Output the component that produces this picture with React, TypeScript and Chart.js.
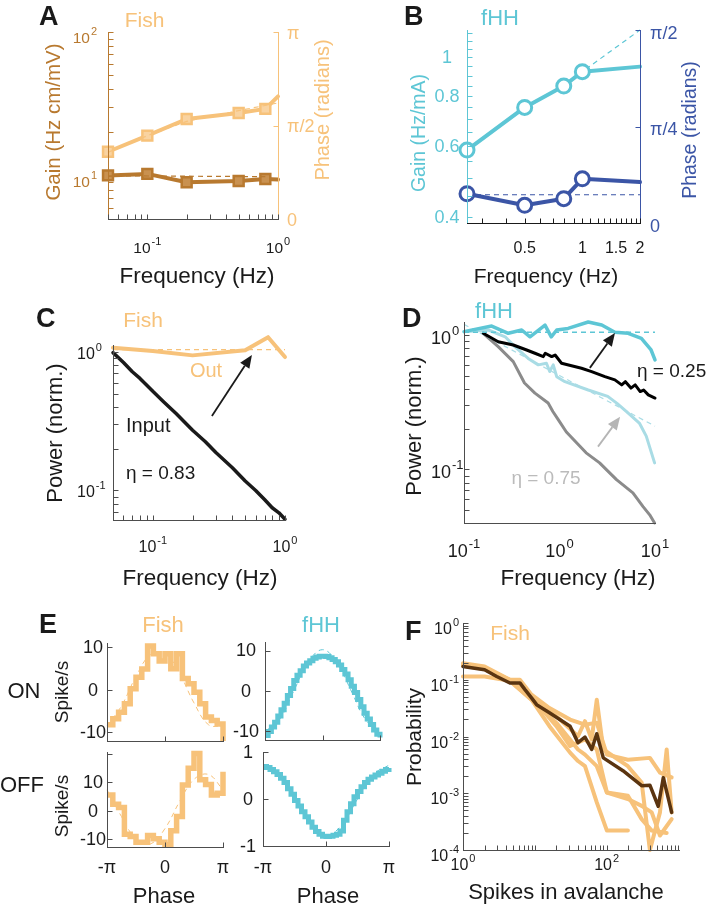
import React, { useEffect, useRef } from "react";
import { Chart, registerables } from "chart.js";

Chart.register(...registerables);

const W = 706;
const H = 905;
const SANS = '"Liberation Sans", Arial, Helvetica, sans-serif';
const PI = Math.PI;

// colours
const ORANGE = "#F7C27A";
const ORANGE_IN = "#F9D3A1";
const BROWN = "#B8792F";
const BROWN_IN = "#C99150";
const CYAN = "#5DC6D5";
const BLUE = "#3B55A6";
const LCYAN = "#A9DCE5";
const GRAY = "#8B8B8B";
const LGRAY = "#BBBBBB";
const DBROWN = "#5A3410";
const INK = "#1a1a1a";
const AX = "#4d4d4d";

/* ---------------- A : Fish gain / phase ---------------- */
const aFreq = [0.05, 0.1, 0.2, 0.5, 0.8, 1.0];
const aGain = [10.05, 10.3, 9.0, 9.2, 9.5, 9.4];
const aPhase = [1.13, 1.4, 1.68, 1.78, 1.85, 2.06];
const aMarked = 5;
const aGainFitFreq = [0.05, 0.8];
const aGainFit = [10.0, 9.85];
const aPhaseFitFreq = [0.05, 0.1, 0.2, 0.5, 1.0];
const aPhaseFit = [1.12, 1.4, 1.64, 1.82, 1.95];
const aXTicks = [0.05, 0.06, 0.07, 0.08, 0.09, 0.1, 0.2, 0.3, 0.4, 0.5, 0.6, 0.7, 0.8, 0.9, 1];
const aYTicks = [5, 6, 7, 8, 9, 10, 20, 30, 40, 50, 60, 70, 80, 90, 100];
const aXLabels = [{ v: 0.1, e: "-1" }, { v: 1, e: "0" }];
const aYLabels = [{ v: 10, e: "1" }, { v: 100, e: "2" }];
const aY2Labels = [{ v: 0, s: "0" }, { v: PI / 2, s: "π/2" }, { v: PI, s: "π" }];

/* ---------------- B : fHH gain / phase ---------------- */
const bFreq = [0.25, 0.5, 0.8, 1.0, 2.0];
const bGain = [0.587, 0.75, 0.848, 0.921, 0.948];
const bPhase = [0.238, 0.144, 0.198, 0.36, 0.333];
const bMarked = 4;
const bGainFit = [0.587, 0.75, 0.848, 0.921, 1.17];
const bPhaseFitFreq = [0.25, 2.0];
const bPhaseFit = [0.23, 0.23];
const bXTicks = [0.3, 0.4, 0.5, 0.6, 0.7, 0.8, 0.9, 1.0, 1.1, 1.2, 1.3, 1.4, 1.5, 1.6, 1.7, 1.8, 1.9, 2.0];
const bYTicks = [0.4, 0.45, 0.5, 0.55, 0.6, 0.65, 0.7, 0.75, 0.8, 0.85, 0.9, 0.95, 1.0, 1.05, 1.1, 1.15];
const bXLabels = [{ v: 0.5, s: "0.5" }, { v: 1, s: "1" }, { v: 1.5, s: "1.5" }, { v: 2, s: "2" }];
const bYLabels = [{ v: 0.4, s: "0.4" }, { v: 0.6, s: "0.6" }, { v: 0.8, s: "0.8" }, { v: 1, s: "1" }];
const bY2Labels = [{ v: 0, s: "0" }, { v: PI / 4, s: "π/4" }, { v: PI / 2, s: "π/2" }];

/* ---------------- C : Fish power spectra ---------------- */
const cFreq = [0.05, 0.06, 0.07, 0.08, 0.1, 0.12, 0.15, 0.2, 0.25, 0.3, 0.4, 0.5, 0.6, 0.7, 0.8, 0.9, 1.0];
const cInput = [0.99, 0.84, 0.72, 0.645, 0.52, 0.44, 0.36, 0.272, 0.225, 0.188, 0.146, 0.117, 0.1, 0.086, 0.075, 0.069, 0.062];
const cOutFreq = [0.05, 0.1, 0.2, 0.5, 0.745, 1.0];
const cOut = [1.075, 1.017, 0.946, 1.03, 1.28, 0.92];
const cFitFreq = [0.05, 1.0];
const cFit = [1.04, 1.04];
const cXTicks = [0.05, 0.06, 0.07, 0.08, 0.09, 0.1, 0.2, 0.3, 0.4, 0.5, 0.6, 0.7, 0.8, 0.9, 1];
const cYTicks = [0.07, 0.08, 0.09, 0.1, 0.2, 0.3, 0.4, 0.5, 0.6, 0.7, 0.8, 0.9, 1];
const cXLabels = [{ v: 0.1, e: "-1" }, { v: 1, e: "0" }];
const cYLabels = [{ v: 0.1, e: "-1" }, { v: 1, e: "0" }];
const cArrow = { from: [0.28, 0.345], to: [0.562, 0.953] };

/* ---------------- D : fHH power spectra ---------------- */
const dCyanF = [0.1, 0.195, 0.291, 0.402, 0.491, 0.705, 0.82, 0.935, 1.23, 2.0, 2.77, 3.8, 5.24, 7.2, 9.1, 10];
const dCyan = [1.06, 1.166, 1.03, 1.09, 0.97, 1.186, 0.97, 1.09, 1.12, 1.25, 1.186, 1.05, 1.03, 0.945, 0.774, 0.653];
const dBlackF = [0.159, 0.228, 0.328, 0.453, 0.553, 0.677, 0.71, 0.828, 0.9, 1.05, 1.7, 2.17, 2.99, 3.8, 4.48, 4.9, 5.6, 6.2, 7.0, 7.6, 8.5, 10];
const dBlack = [1.03, 0.892, 0.843, 0.774, 0.732, 0.691, 0.732, 0.691, 0.71, 0.617, 0.566, 0.535, 0.49, 0.464, 0.426, 0.45, 0.403, 0.426, 0.38, 0.39, 0.359, 0.34];
const dGrayF = [0.159, 0.228, 0.328, 0.43, 0.553, 0.76, 0.852, 0.97, 1.18, 1.9, 2.63, 3.95, 5.87, 7.5, 8.8, 9.9];
const dGray = [1.03, 0.82, 0.634, 0.44, 0.37, 0.312, 0.27, 0.235, 0.19, 0.133, 0.112, 0.084, 0.067, 0.053, 0.046, 0.04];
const dLightF = [0.11, 0.18, 0.27, 0.34, 0.47, 0.6, 0.73, 0.79, 0.86, 0.935, 1.14, 2.0, 3.2, 4.0, 5.0, 6.9, 8.1, 9.9];
const dLight = [1.06, 1.09, 0.97, 0.82, 0.67, 0.6, 0.617, 0.535, 0.6, 0.49, 0.45, 0.39, 0.35, 0.31, 0.27, 0.22, 0.177, 0.112];
const dFitF = [0.1, 10];
const dFitCyan = [1.05, 1.05];
const dFitLightF = [0.1, 1, 10];
const dFitLight = [1.2, 0.5, 0.21];
const dYTicks = [0.04, 0.05, 0.06, 0.07, 0.08, 0.09, 0.1, 0.2, 0.3, 0.4, 0.5, 0.6, 0.7, 0.8, 0.9, 1];
const dXLabels = [{ v: 0.1, e: "-1" }, { v: 1, e: "0" }, { v: 10, e: "1" }];
const dYLabels = [{ v: 0.1, e: "-1" }, { v: 1, e: "0" }];
const dArrowBlack = { from: [2.08, 0.57], to: [3.81, 1.035] };
const dArrowGray = { from: [2.53, 0.148], to: [4.31, 0.247] };

/* ---------------- E : phase histograms (phase in degrees) ---------------- */
const PHASE_END = 180;
const fishEdges = [-180, -162, -144, -126, -108, -90, -72, -54, -36, -18, 0, 18, 36, 54, 72, 90, 108, 126, 144, 162];
const fishOn = [-8.2, -6.8, -5.3, -3.3, 0.2, 2.9, 4.8, 10.2, 8.4, 6.7, 8.4, 4.9, 8.4, 2.6, 1.4, -0.6, -3.3, -6.4, -7.2, -8.0];
const fishOnEnd = -12;
const fishOff = [5.5, 2.2, 1.1, -8.3, -9.1, -11.1, -11.1, -8.8, -9.9, -11.1, -12.0, -7.1, -2.1, 9.0, 14.9, 20.1, 10.8, 9.2, 5.5, 6.1];
const fishOffEnd = 13.7;
const fitPhase = [-180, -135, -90, -45, 0, 45, 90, 135, 180];
const fishOnFit = [-8.5, -3.8, 3.1, 8.2, 8.5, 3.8, -3.1, -8.2, -8.5];
const fishOffFit = [7.3, -2.1, -10.0, -11.7, -6.3, 3.1, 11.0, 12.7, 7.3];
const hhEdges = [-180, -170, -160, -150, -140, -130, -120, -110, -100, -90, -80, -70, -60, -50, -40, -30, -20, -10, 0, 10, 20, 30, 40, 50, 60, 70, 80, 90, 100, 110, 120, 130, 140, 150, 160, 170];
const hhOn = [-11.0, -10.0, -8.9, -7.7, -6.2, -4.6, -3.0, -1.1, 0.6, 2.6, 3.9, 5.0, 6.2, 6.9, 7.5, 8.1, 8.4, 8.6, 8.6, 8.5, 8.2, 7.8, 7.2, 6.4, 5.3, 4.2, 2.8, 1.2, -0.4, -2.1, -3.9, -5.5, -6.9, -8.3, -9.6, -10.7];
const hhOnEnd = -11.5;
const hhOff = [0.69, 0.67, 0.63, 0.58, 0.52, 0.44, 0.35, 0.22, 0.1, -0.03, -0.15, -0.27, -0.38, -0.49, -0.6, -0.69, -0.75, -0.79, -0.8, -0.79, -0.77, -0.75, -0.68, -0.45, -0.27, -0.1, 0.05, 0.16, 0.26, 0.35, 0.42, 0.47, 0.51, 0.55, 0.59, 0.63];
const hhOffEnd = 0.66;
const hhOnFit = [-10, -7.1, 0, 7.1, 10.2, 7.1, 0, -7.1, -10];
const hhOffFit = [0.72, 0.52, 0, -0.52, -0.78, -0.55, 0, 0.52, 0.72];
const eXTicks = [-180, 0, 180];
const eXLabels = [{ v: -180, s: "-π" }, { v: 0, s: "0" }, { v: 180, s: "π" }];
const e10Ticks = [-10, 0, 10];
const e10Labels = [{ v: 10, s: "10" }, { v: 0, s: "0" }, { v: -10, s: "-10" }];
const eOffTicks = [-10, 0, 10, 20];
const e1Ticks = [-1, 0, 1];
const e1Labels = [{ v: 1, s: "1" }, { v: 0, s: "0" }, { v: -1, s: "-1" }];

/* ---------------- F : avalanche size distributions ---------------- */
const fDarkX = [1, 2, 2.95, 4.5, 6.2, 7.3, 9, 10.6, 16, 31, 40, 50, 62, 73, 90, 169, 308, 401, 524, 617, 806];
const fDarkY = [0.171, 0.15, 0.114, 0.0875, 0.088, 0.067, 0.048, 0.0364, 0.0262, 0.0152, 0.0078, 0.0098, 0.0059, 0.0112, 0.0042, 0.0025, 0.00136, 0.00139, 0.00059, 0.00188, 0.00046];
const fL1X = [1, 2, 4.5, 6.2, 9, 16, 31, 50, 73, 101, 198, 401, 554, 806];
const fL1Y = [0.196, 0.171, 0.1, 0.1, 0.0545, 0.0318, 0.0199, 0.0162, 0.0174, 0.0048, 0.0039, 0.0042, 0.0023, 0.0019];
const fL2X = [1, 2, 4.5, 7.6, 10.6, 20, 31, 50, 73, 101, 198, 308, 425, 554, 806];
const fL2Y = [0.114, 0.114, 0.0955, 0.0668, 0.039, 0.0152, 0.0068, 0.0089, 0.0059, 0.00103, 0.00079, 0.0006, 0.00046, 0.00018, 0.00035];
const fL3X = [1, 2, 4.5, 9, 16, 31, 40, 50, 73, 101, 198];
const fL3Y = [0.183, 0.16, 0.0955, 0.0446, 0.0152, 0.0052, 0.0037, 0.003, 0.00069, 0.00022, 0.00022];
const fL4X = [1, 2, 4.5, 9, 20, 40, 50, 62, 73, 90, 198, 308, 401, 554, 687, 806];
const fL4Y = [0.183, 0.16, 0.1, 0.051, 0.0227, 0.0101, 0.0186, 0.0089, 0.0446, 0.0059, 0.003, 0.00154, 0.0001, 0.00046, 0.0059, 0.00046];
const fL5X = [1, 2, 4.5, 9, 20, 40, 50, 73, 101, 198, 308, 425, 687];
const fL5Y = [0.176, 0.154, 0.097, 0.0446, 0.0174, 0.0059, 0.0048, 0.003, 0.00103, 0.0009, 0.00035, 0.00022, 0.0002];
const fXTicks = [1, 2, 3, 4, 5, 6, 7, 8, 9, 10, 20, 30, 40, 50, 60, 70, 80, 90, 100, 200, 300, 400, 500, 600, 700, 800, 900, 1000];
const fYTicks = [
  1e-4, 2e-4, 3e-4, 4e-4, 5e-4, 6e-4, 7e-4, 8e-4, 9e-4,
  1e-3, 2e-3, 3e-3, 4e-3, 5e-3, 6e-3, 7e-3, 8e-3, 9e-3,
  1e-2, 2e-2, 3e-2, 4e-2, 5e-2, 6e-2, 7e-2, 8e-2, 9e-2,
  0.1, 0.2, 0.3, 0.4, 0.5, 0.6, 0.7, 0.8, 0.9, 1,
];
const fXLabels = [{ v: 1, e: "0" }, { v: 100, e: "2" }];
const fYLabels = [{ v: 1e-4, e: "-4" }, { v: 1e-3, e: "-3" }, { v: 1e-2, e: "-2" }, { v: 0.1, e: "-1" }, { v: 1, e: "0" }];

/* ---------------- helpers ---------------- */
type C2D = CanvasRenderingContext2D;
type Rect = { l: number; t: number; r: number; b: number };
interface Panel {
  rect: Rect;
  scales: any;
  datasets: any[];
  deco: (ctx: C2D, c: any) => void;
}

function line(xs: number[], ys: number[], color: string, width: number, extra: any = {}) {
  return {
    data: xs.map((x, i) => ({ x, y: ys[i] })),
    borderColor: color,
    backgroundColor: color,
    borderWidth: width,
    pointRadius: 0,
    pointHoverRadius: 0,
    fill: false,
    tension: 0,
    clip: false,
    borderCapStyle: "round",
    borderJoinStyle: "round",
    ...extra,
  };
}
const dashed = (extra: any = {}) => ({ borderDash: [5, 4], borderCapStyle: "butt", ...extra });
function stairs(edges: number[], vals: number[], end: number, color: string, width: number) {
  return line([...edges, PHASE_END], [...vals, end], color, width, {
    stepped: true,
    borderJoinStyle: "miter",
    borderCapStyle: "butt",
  });
}
const lg = (min: number, max: number, extra: any = {}) => ({ type: "logarithmic", min, max, display: false, ...extra });
const ln = (min: number, max: number, extra: any = {}) => ({ type: "linear", min, max, display: false, ...extra });

const px = (c: any, v: number) => c.scales.x.getPixelForValue(v);
const py = (c: any, v: number, id = "y") => c.scales[id].getPixelForValue(v);

function seg(ctx: C2D, x1: number, y1: number, x2: number, y2: number, color: string, w = 1) {
  ctx.strokeStyle = color;
  ctx.lineWidth = w;
  ctx.setLineDash([]);
  ctx.beginPath();
  ctx.moveTo(x1, y1);
  ctx.lineTo(x2, y2);
  ctx.stroke();
}
const snap = (v: number) => Math.round(v) + 0.5;

interface AxisSpec { color: string; ticks: number[]; id?: string }
function axes(ctx: C2D, c: any, s: { left?: AxisSpec; right?: AxisSpec; bottom?: AxisSpec }, TL = 5) {
  const a = c.chartArea;
  if (s.left) {
    const x = snap(a.left);
    seg(ctx, x, a.top, x, a.bottom + 1, s.left.color);
    s.left.ticks.forEach((v) => {
      const y = snap(py(c, v, s.left!.id || "y"));
      seg(ctx, x, y, x + TL, y, s.left!.color);
    });
  }
  if (s.right) {
    const x = snap(a.right);
    seg(ctx, x, a.top, x, a.bottom + 1, s.right.color);
    s.right.ticks.forEach((v) => {
      const y = snap(py(c, v, s.right!.id || "y2"));
      seg(ctx, x, y, x - TL, y, s.right!.color);
    });
  }
  if (s.bottom) {
    const y = snap(a.bottom);
    seg(ctx, a.left, y, a.right + 1, y, s.bottom.color);
    s.bottom.ticks.forEach((v) => {
      const x = snap(px(c, v));
      seg(ctx, x, y, x, y - TL, s.bottom!.color);
    });
  }
}

function txt(
  ctx: C2D,
  s: string,
  x: number,
  y: number,
  size: number,
  color: string,
  align: CanvasTextAlign = "center",
  baseline: CanvasTextBaseline = "alphabetic",
  bold = false
) {
  ctx.save();
  ctx.font = `${bold ? "bold " : ""}${size}px ${SANS}`;
  ctx.fillStyle = color;
  ctx.textAlign = align;
  ctx.textBaseline = baseline;
  ctx.fillText(s, x, y);
  ctx.restore();
}
function rtxt(ctx: C2D, s: string, x: number, y: number, size: number, color: string) {
  ctx.save();
  ctx.translate(x, y);
  ctx.rotate(-PI / 2);
  ctx.font = `${size}px ${SANS}`;
  ctx.fillStyle = color;
  ctx.textAlign = "center";
  ctx.textBaseline = "alphabetic";
  ctx.fillText(s, 0, 0);
  ctx.restore();
}
function pow10(ctx: C2D, e: string, x: number, y: number, size: number, color: string, align: "left" | "center" | "right") {
  ctx.save();
  const sup = Math.round(size * 0.7);
  ctx.font = `${size}px ${SANS}`;
  const bw = ctx.measureText("10").width;
  ctx.font = `${sup}px ${SANS}`;
  const sw = ctx.measureText(e).width;
  const tw = bw + 1 + sw;
  const x0 = align === "left" ? x : align === "center" ? x - tw / 2 : x - tw;
  ctx.fillStyle = color;
  ctx.textAlign = "left";
  ctx.textBaseline = "alphabetic";
  ctx.font = `${size}px ${SANS}`;
  ctx.fillText("10", x0, y);
  ctx.font = `${sup}px ${SANS}`;
  ctx.fillText(e, x0 + bw + 1, y - size * 0.5);
  ctx.restore();
}
function arrow(ctx: C2D, x1: number, y1: number, x2: number, y2: number, color: string, w = 1.8, head = 13, hw = 5.5) {
  const ang = Math.atan2(y2 - y1, x2 - x1);
  const bx = x2 - head * Math.cos(ang);
  const by = y2 - head * Math.sin(ang);
  seg(ctx, x1, y1, bx, by, color, w);
  ctx.fillStyle = color;
  ctx.beginPath();
  ctx.moveTo(x2, y2);
  ctx.lineTo(bx + hw * Math.sin(ang), by - hw * Math.cos(ang));
  ctx.lineTo(bx - hw * Math.sin(ang), by + hw * Math.cos(ang));
  ctx.closePath();
  ctx.fill();
}
function dataArrow(ctx: C2D, c: any, a: { from: number[]; to: number[] }, color: string) {
  arrow(ctx, px(c, a.from[0]), py(c, a.from[1]), px(c, a.to[0]), py(c, a.to[1]), color);
}
const letter = (ctx: C2D, s: string, x: number, y: number) => txt(ctx, s, x, y, 27, INK, "left", "alphabetic", true);

/* ---------------- panels ---------------- */
const PANELS: Panel[] = [
  // A
  {
    rect: { l: 108, t: 32, r: 278, b: 219 },
    scales: { x: lg(0.05, 1), y: lg(5, 100), y2: ln(0, PI, { position: "right" }) },
    datasets: [
      line(aFreq, aGain, BROWN, 4, {
        pointStyle: "rect",
        pointRadius: (k: any) => (k.dataIndex < aMarked ? 7 : 0),
        pointBorderWidth: 2.5,
        pointBackgroundColor: BROWN_IN,
        pointBorderColor: BROWN,
      }),
      line(aFreq, aPhase, ORANGE, 4, {
        yAxisID: "y2",
        pointStyle: "rect",
        pointRadius: (k: any) => (k.dataIndex < aMarked ? 7 : 0),
        pointBorderWidth: 2.5,
        pointBackgroundColor: ORANGE_IN,
        pointBorderColor: ORANGE,
      }),
      line(aGainFitFreq, aGainFit, BROWN, 1.2, dashed()),
      line(aPhaseFitFreq, aPhaseFit, ORANGE, 1.2, dashed({ yAxisID: "y2" })),
    ],
    deco: (ctx, c) => {
      const a = c.chartArea;
      axes(ctx, c, {
        left: { color: BROWN, ticks: aYTicks },
        right: { color: ORANGE, ticks: aY2Labels.map((l) => l.v), id: "y2" },
        bottom: { color: AX, ticks: aXTicks },
      });
      aYLabels.forEach((l) => pow10(ctx, l.e, a.left - 11, py(c, l.v) + 11, 15.5, BROWN, "right"));
      aY2Labels.forEach((l) => txt(ctx, l.s, a.right + 9, py(c, l.v, "y2") + 2, 18, ORANGE, "left", "middle"));
      aXLabels.forEach((l) => pow10(ctx, l.e, px(c, l.v), 253, 15.5, INK, "center"));
      txt(ctx, "Frequency (Hz)", 197, 283, 22.5, INK);
      rtxt(ctx, "Gain (Hz cm/mV)", 60, 122, 20.5, BROWN);
      rtxt(ctx, "Phase (radians)", 329, 110, 20, ORANGE);
      txt(ctx, "Fish", 144.5, 27, 21, ORANGE);
      letter(ctx, "A", 39, 25);
    },
  },
  // B
  {
    rect: { l: 467, t: 30, r: 640, b: 223 },
    scales: { x: lg(0.25, 2), y: lg(0.386, 1.17), y2: ln(0, PI / 2, { position: "right" }) },
    datasets: [
      line(bFreq, bGainFit, CYAN, 1.2, dashed()),
      line(bPhaseFitFreq, bPhaseFit, BLUE, 1.2, dashed({ yAxisID: "y2" })),
      line(bFreq, bGain, CYAN, 4, {
        pointStyle: "circle",
        pointRadius: (k: any) => (k.dataIndex < bMarked ? 7 : 0),
        pointBorderWidth: 3,
        pointBackgroundColor: "#ffffff",
        pointBorderColor: CYAN,
      }),
      line(bFreq, bPhase, BLUE, 4, {
        yAxisID: "y2",
        pointStyle: "circle",
        pointRadius: (k: any) => (k.dataIndex < bMarked ? 7 : 0),
        pointBorderWidth: 3,
        pointBackgroundColor: "#ffffff",
        pointBorderColor: BLUE,
      }),
    ],
    deco: (ctx, c) => {
      axes(ctx, c, {
        left: { color: CYAN, ticks: bYTicks },
        right: { color: BLUE, ticks: bY2Labels.map((l) => l.v), id: "y2" },
        bottom: { color: INK, ticks: bXTicks },
      });
      bYLabels.forEach((l) => txt(ctx, l.s, 447, py(c, l.v) + 1, 18, CYAN, "center", "middle"));
      bY2Labels.forEach((l) => txt(ctx, l.s, c.chartArea.right + 10, py(c, l.v, "y2") + 4, 18, BLUE, "left", "middle"));
      bXLabels.forEach((l) => txt(ctx, l.s, px(c, l.v), 253, 16, INK));
      txt(ctx, "Frequency (Hz)", 546, 283, 21, INK);
      rtxt(ctx, "Gain (Hz/mA)", 425, 133, 19.5, CYAN);
      rtxt(ctx, "Phase (radians)", 696, 130, 19.5, BLUE);
      txt(ctx, "fHH", 500, 25, 22, CYAN);
      letter(ctx, "B", 404, 25);
    },
  },
  // C
  {
    rect: { l: 113, t: 345, r: 285, b: 520 },
    scales: { x: lg(0.05, 1), y: lg(0.0612, 1.124) },
    datasets: [
      line(cFreq, cInput, INK, 3.5),
      line(cOutFreq, cOut, ORANGE, 4),
      line(cFitFreq, cFit, ORANGE, 1.2, dashed()),
    ],
    deco: (ctx, c) => {
      axes(ctx, c, { left: { color: AX, ticks: cYTicks }, bottom: { color: AX, ticks: cXTicks } });
      cYLabels.forEach((l) => pow10(ctx, l.e, 77, py(c, l.v) + 6.5, 16, INK, "left"));
      cXLabels.forEach((l) => pow10(ctx, l.e, px(c, l.v), 552, 16, INK, "center"));
      txt(ctx, "Frequency (Hz)", 200, 585, 22.5, INK);
      rtxt(ctx, "Power (norm.)", 62, 433, 22, INK);
      txt(ctx, "Fish", 143, 327, 21, ORANGE);
      letter(ctx, "C", 36, 327);
      txt(ctx, "Out", 206, 377, 20, ORANGE);
      txt(ctx, "Input", 126, 432, 20, INK, "left");
      txt(ctx, "η = 0.83", 126, 479, 19, INK, "left");
      dataArrow(ctx, c, cArrow, INK);
    },
  },
  // D
  {
    rect: { l: 464, t: 322, r: 655, b: 523 },
    scales: { x: lg(0.1, 10), y: lg(0.04, 1.25) },
    datasets: [
      line(dGrayF, dGray, GRAY, 3),
      line(dLightF, dLight, LCYAN, 3),
      line(dFitLightF, dFitLight, LCYAN, 1.2, dashed()),
      line(dBlackF, dBlack, "#000000", 3),
      line(dFitF, dFitCyan, CYAN, 1.5, dashed()),
      line(dCyanF, dCyan, CYAN, 3.5),
    ],
    deco: (ctx, c) => {
      axes(ctx, c, { left: { color: AX, ticks: dYTicks }, bottom: { color: AX, ticks: [] } });
      dYLabels.forEach((l) => pow10(ctx, l.e, 431, py(c, l.v) + 9, 18, INK, "left"));
      dXLabels.forEach((l) => pow10(ctx, l.e, px(c, l.v), 557, 18, INK, "center"));
      txt(ctx, "Frequency (Hz)", 578, 585, 22.5, INK);
      rtxt(ctx, "Power (norm.)", 421, 426, 22, INK);
      txt(ctx, "fHH", 494, 318, 22, CYAN);
      letter(ctx, "D", 402, 327);
      txt(ctx, "η = 0.25", 637, 377, 19, INK, "left");
      txt(ctx, "η = 0.75", 546, 484, 19, LGRAY);
      dataArrow(ctx, c, dArrowBlack, INK);
      dataArrow(ctx, c, dArrowGray, "#b5b5b5");
    },
  },
  // E1 fish ON
  {
    rect: { l: 107, t: 643, r: 223, b: 741 },
    scales: { x: ln(-180, 180), y: ln(-12, 10.9) },
    datasets: [stairs(fishEdges, fishOn, fishOnEnd, ORANGE, 5.5), line(fitPhase, fishOnFit, ORANGE, 1, dashed({ tension: 0.4 }))],
    deco: (ctx, c) => {
      axes(ctx, c, { left: { color: AX, ticks: e10Ticks }, bottom: { color: AX, ticks: eXTicks } });
      e10Labels.forEach((l) => txt(ctx, l.s, 93, py(c, l.v) + 1, 18, INK, "center", "middle"));
      txt(ctx, "Fish", 163, 632, 22, ORANGE);
      letter(ctx, "E", 39, 633);
      txt(ctx, "ON", 24, 698, 22, INK);
      rtxt(ctx, "Spike/s", 68, 692, 19, INK);
    },
  },
  // E2 fish OFF
  {
    rect: { l: 107, t: 752, r: 223, b: 847 },
    scales: { x: ln(-180, 180), y: ln(-12.8, 20.6) },
    datasets: [stairs(fishEdges, fishOff, fishOffEnd, ORANGE, 5.5), line(fitPhase, fishOffFit, ORANGE, 1, dashed({ tension: 0.4 }))],
    deco: (ctx, c) => {
      axes(ctx, c, { left: { color: AX, ticks: eOffTicks }, bottom: { color: AX, ticks: eXTicks } });
      e10Labels.forEach((l) => txt(ctx, l.s, 93, py(c, l.v) + 1, 18, INK, "center", "middle"));
      eXLabels.forEach((l) => txt(ctx, l.s, px(c, l.v), 873, 18, INK));
      txt(ctx, "Phase", 164, 903, 22, INK);
      txt(ctx, "OFF", 22, 792, 22, INK);
      rtxt(ctx, "Spike/s", 68, 806, 19, INK);
    },
  },
  // E3 fHH ON
  {
    rect: { l: 265, t: 642, r: 380, b: 740 },
    scales: { x: ln(-180, 180), y: ln(-12.1, 12.1) },
    datasets: [stairs(hhEdges, hhOn, hhOnEnd, CYAN, 5), line(fitPhase, hhOnFit, CYAN, 1, dashed({ tension: 0.4 }))],
    deco: (ctx, c) => {
      axes(ctx, c, { left: { color: AX, ticks: e10Ticks }, bottom: { color: AX, ticks: eXTicks } });
      e10Labels.forEach((l) => txt(ctx, l.s, 246, py(c, l.v) + 1, 18, INK, "center", "middle"));
      txt(ctx, "fHH", 321, 632, 22, CYAN);
    },
  },
  // E4 fHH OFF
  {
    rect: { l: 263, t: 752, r: 389, b: 846 },
    scales: { x: ln(-180, 180), y: ln(-1, 1) },
    datasets: [stairs(hhEdges, hhOff, hhOffEnd, CYAN, 5), line(fitPhase, hhOffFit, CYAN, 1, dashed({ tension: 0.4 }))],
    deco: (ctx, c) => {
      axes(ctx, c, { left: { color: AX, ticks: e1Ticks }, bottom: { color: AX, ticks: eXTicks } });
      e1Labels.forEach((l) => txt(ctx, l.s, 248, py(c, l.v) + 1, 18, INK, "center", "middle"));
      eXLabels.forEach((l) => txt(ctx, l.s, px(c, l.v), 873, 18, INK));
      txt(ctx, "Phase", 328, 903, 22, INK);
    },
  },
  // F
  {
    rect: { l: 463, t: 623, r: 679, b: 850 },
    scales: { x: lg(1, 1020), y: lg(1e-4, 1) },
    datasets: [
      line(fL1X, fL1Y, ORANGE, 4),
      line(fL2X, fL2Y, ORANGE, 4),
      line(fL3X, fL3Y, ORANGE, 4),
      line(fL4X, fL4Y, ORANGE, 4),
      line(fL5X, fL5Y, ORANGE, 4),
      line(fDarkX, fDarkY, DBROWN, 3.5),
    ],
    deco: (ctx, c) => {
      axes(ctx, c, { left: { color: AX, ticks: fYTicks }, bottom: { color: AX, ticks: fXTicks } });
      fYLabels.forEach((l) => pow10(ctx, l.e, 459, py(c, l.v) + 11, 16, INK, "right"));
      fXLabels.forEach((l) => pow10(ctx, l.e, px(c, l.v), 870, 16, INK, "center"));
      txt(ctx, "Spikes in avalanche", 566, 899, 22, INK);
      rtxt(ctx, "Probability", 421, 737, 21, INK);
      txt(ctx, "Fish", 510, 640, 21, ORANGE);
      letter(ctx, "F", 405, 640);
    },
  },
];

function makeConfig(p: Panel): any {
  const n = p.datasets.length;
  return {
    type: "line",
    data: { datasets: p.datasets.map((d, i) => ({ ...d, order: n - i })) },
    options: {
      responsive: false,
      animation: false,
      events: [],
      layout: {
        autoPadding: false,
        padding: { left: p.rect.l, top: p.rect.t, right: W - p.rect.r, bottom: H - p.rect.b },
      },
      plugins: { legend: { display: false }, tooltip: { enabled: false }, title: { display: false } },
      scales: p.scales,
    },
    plugins: [
      {
        id: "deco",
        afterDatasetsDraw(chart: any) {
          const ctx = chart.ctx as C2D;
          ctx.save();
          p.deco(ctx, chart);
          ctx.restore();
        },
      },
    ],
  };
}

export default function App() {
  const refs = useRef<(HTMLCanvasElement | null)[]>([]);
  useEffect(() => {
    const charts = PANELS.map((p, i) => new Chart(refs.current[i] as HTMLCanvasElement, makeConfig(p)));
    return () => charts.forEach((ch) => ch.destroy());
  }, []);
  return (
    <div style={{ position: "absolute", left: 0, top: 0, width: W, height: H, background: "#ffffff", overflow: "hidden" }}>
      {PANELS.map((_, i) => (
        <canvas
          key={i}
          ref={(el) => {
            refs.current[i] = el;
          }}
          width={W}
          height={H}
          style={{ position: "absolute", left: 0, top: 0, width: W, height: H }}
        />
      ))}
    </div>
  );
}
